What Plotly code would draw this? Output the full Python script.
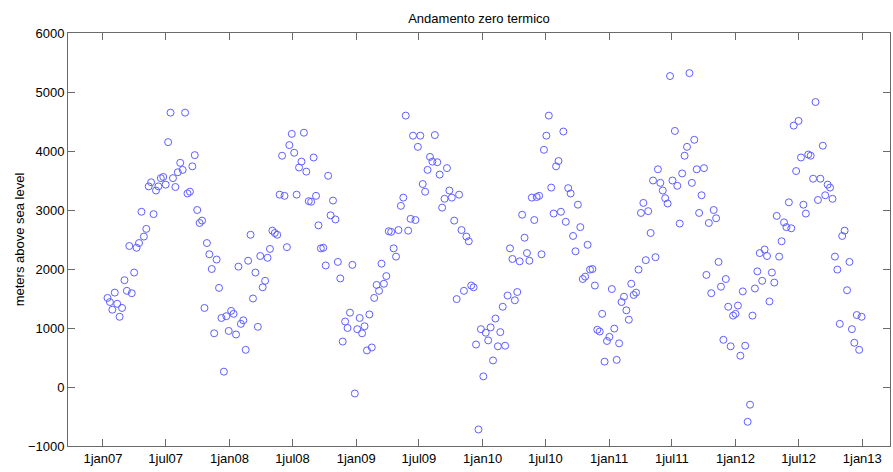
import pandas as pd
import plotly.graph_objects as go

# Weekly freezing-level heights (m a.s.l.), one array per calendar year
h2007 = [1510, 1440, 1310, 1600, 1410, 1190, 1340, 1810, 1630, 2390, 1590, 1940,
         2360, 2440, 2970, 2550, 2680, 3400, 3470, 2930, 3330, 3400, 3540, 3560,
         3430, 4150, 4650, 3540, 3390, 3640, 3800, 3680, 4650, 3280, 3310, 3740,
         3930, 3000, 2780, 2820, 1340, 2440, 2250, 2000, 910, 2160, 1680, 1170,
         260, 1200, 950]
h2008 = [1290, 1240, 890, 2040, 1070, 1130, 630, 2140, 2580, 1500, 1940, 1020,
         2220, 1690, 1800, 2190, 2340, 2650, 2610, 2580, 3260, 3920, 3240, 2370,
         4100, 4290, 3970, 3260, 3720, 3820, 4310, 3650, 3150, 3140, 3890, 3240,
         2740, 2350, 2360, 2060, 3580, 2910, 3160, 2840, 2120, 1840, 770, 1110,
         1000, 1260, 2070, -110]
h2009 = [980, 1170, 910, 1030, 620, 1230, 670, 1510, 1730, 1630, 2090, 1750,
         1880, 2640, 2630, 2350, 2210, 2660, 3070, 3210, 4600, 2650, 2850, 4260,
         2830, 4070, 4260, 3440, 3310, 3680, 3900, 3820, 4270, 3810, 3600, 3040,
         3190, 3710, 3330, 3210, 2820, 1490, 3260, 2660, 1630, 2550, 2470, 1720,
         1690, 720, -720, 980]
h2010 = [180, 920, 790, 1010, 450, 1160, 690, 930, 1360, 700, 1550, 2350,
         2170, 1470, 1610, 2130, 2920, 2530, 2270, 2140, 3210, 2830, 3220, 3240,
         2250, 4020, 4260, 4600, 3380, 2940, 3740, 3830, 2970, 4330, 2800, 3370,
         3280, 2560, 2300, 3090, 2710, 1830, 1870, 2410, 1990, 2000, 1720, 970,
         940, 1240, 430, 780]
h2011 = [850, 1660, 990, 460, 740, 1440, 1530, 1300, 1140, 1750, 1560, 1600,
         1990, 2950, 3120, 2150, 2980, 2610, 3500, 2200, 3690, 3460, 3330, 3200,
         3110, 5270, 3500, 4340, 3410, 2770, 3620, 3920, 4070, 5320, 3460, 4190,
         3690, 2950, 3250, 3710, 1900, 2780, 1590, 3000, 2860, 2120, 1700, 800,
         1830, 1360, 690, 1210]
h2012 = [1240, 1380, 530, 1620, 700, -590, -300, 1210, 1670, 1960, 2270, 1800,
         2330, 2220, 1450, 1940, 1770, 2900, 2210, 2470, 2790, 2710, 3130, 2690,
         4430, 3660, 4510, 3890, 3090, 2940, 3940, 3920, 3530, 4830, 3170, 3530,
         4090, 3250, 3430, 3380, 3190, 2210, 1990, 1070, 2560, 2650, 1640, 2120,
         980, 750, 1220, 630, 1190]

first_sounding = "2007-01-14"
heights = h2007 + h2008 + h2009 + h2010 + h2011 + h2012
dates = pd.date_range(first_sounding, periods=len(heights), freq="7D")

tick_dates = pd.date_range("2007-01-01", "2013-01-01", freq="6MS")
tick_labels = ["1jan07", "1jul07", "1jan08", "1jul08", "1jan09", "1jul09",
               "1jan10", "1jul10", "1jan11", "1jul11", "1jan12", "1jul12",
               "1jan13"]
y_ticks = [-1000, 0, 1000, 2000, 3000, 4000, 5000, 6000]

axis_color = "#6a6a6a"
font = dict(family="Liberation Sans, Arial, sans-serif", size=13, color="black")

fig = go.Figure(
    go.Scatter(
        x=dates,
        y=heights,
        mode="markers",
        marker=dict(symbol="circle-open", size=7, color="rgb(95,95,255)",
                    line=dict(width=1)),
        showlegend=False,
    )
)

common = dict(showline=True, linecolor=axis_color, linewidth=1, mirror="ticks",
              ticks="inside", ticklen=7, tickcolor=axis_color, tickwidth=1,
              showgrid=False, zeroline=False, tickfont=font)

fig.update_xaxes(range=["2006-09-22", "2013-03-22"], tickvals=tick_dates,
                 ticktext=tick_labels, **common)
fig.update_yaxes(range=[-1000, 6000], tickvals=y_ticks,
                 title=dict(text="meters above sea level", font=font, standoff=0),
                 **common)

fig.update_layout(
    width=893, height=472,
    margin=dict(l=68, r=3, t=33, b=26),
    paper_bgcolor="white", plot_bgcolor="white",
    font=font,
    title=dict(text="Andamento zero termico", x=0.5, xref="paper",
               y=1 - 18 / 472, yref="container", yanchor="middle",
               font=font),
)

fig.write_html("out.html")
